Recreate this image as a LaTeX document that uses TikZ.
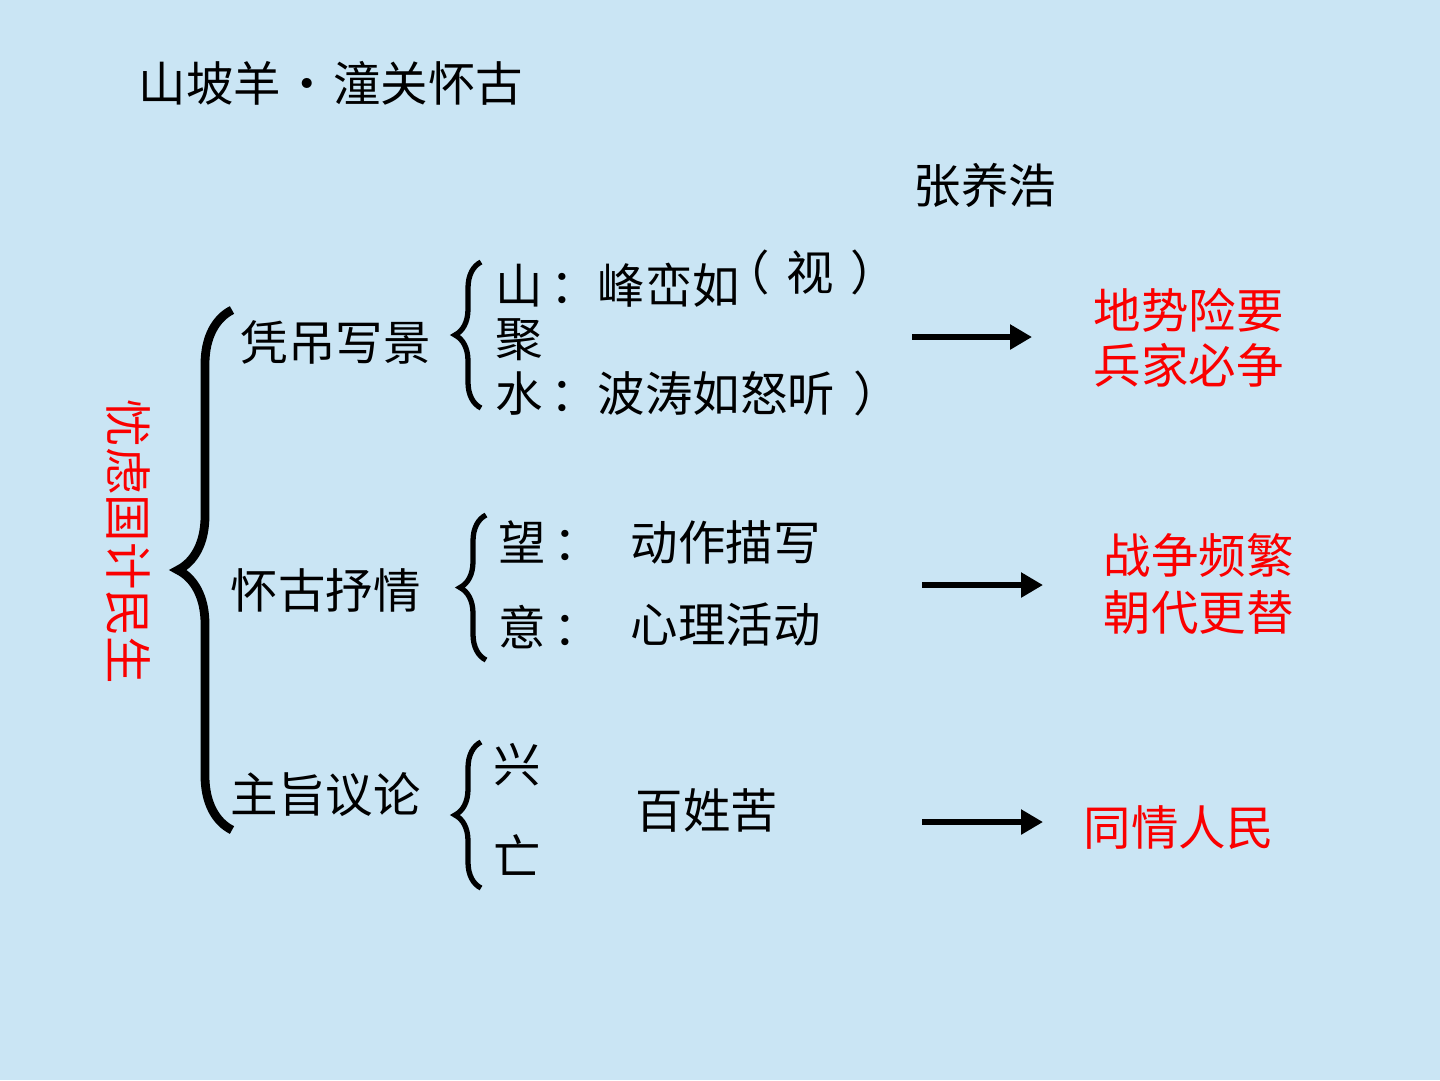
\documentclass[tikz,border=0pt]{standalone}
\usepackage{fontspec}
\setmainfont{Noto Sans CJK SC}
\usetikzlibrary{arrows.meta,decorations.pathreplacing}
\definecolor{paper}{RGB}{202,229,244}
\definecolor{hotred}{RGB}{250,0,0}

\begin{document}
\begin{tikzpicture}[x=0.1mm,y=-0.1mm,
  every node/.style={inner sep=0pt,font=\fontsize{13.5pt}{16pt}\selectfont},
  txt/.style={anchor=west},
  redtxt/.style={text=hotred},
  bigbrace/.style={decorate,decoration={brace,amplitude=5.4mm},line width=2.5pt},
  smallbrace/.style={decorate,decoration={brace,amplitude=2.6mm},line width=1.5pt},
  arr/.style={-{Triangle[length=2.2mm,width=2.4mm]},line width=1.7pt}]
\fill[paper] (0,0) rectangle (1440,1080);
\useasboundingbox (0,0) rectangle (1440,1080);
\node[txt] (title) at (138,83) {山坡羊\makebox[1.1em]{·}潼关怀古};
\node[txt] (author) at (913,185) {张养浩};
\node[redtxt,rotate=-90] (theme) at (128,542) {忧虑国计民生};
\draw[bigbrace] (232,830) -- (232,310);
\node[txt] (scene) at (240,342) {凭吊写景};
\node[txt] (past) at (230,590) {怀古抒情};
\node[txt] (point) at (230,795) {主旨议论};
% block 1
\draw[smallbrace] (481,408) -- (481,262);
\node[txt] (shan) at (495,285) {山\hspace{0.15em}：峰峦如};
\node[txt] (shi) at (722,272) {（\hspace{0.35em}视\hspace{0.35em}）};
\node[txt] (ju) at (495,340) {聚};
\node[txt] (shui) at (495,393) {水\hspace{0.15em}：波涛如怒听\hspace{0.4em}）};
% block 2
\draw[smallbrace] (486,660) -- (486,515);
\node[txt] (wang) at (498,542) {望\hspace{0.15em}：};
\node[txt] (dong) at (630,542) {动作描写};
\node[txt] (yi) at (498,627) {意\hspace{0.15em}：};
\node[txt] (xin) at (630,625) {心理活动};
% block 3
\draw[smallbrace] (481,888) -- (481,742);
\node[txt] (xing) at (493,765) {兴};
\node[txt] (wang2) at (493,855) {亡};
\node[txt] (ku) at (635,810) {百姓苦};
% results
\node[txt,redtxt] (res1a) at (1093,310) {地势险要};
\node[txt,redtxt] (res1b) at (1093,365) {兵家必争};
\node[txt,redtxt] (res2a) at (1103,555) {战争频繁};
\node[txt,redtxt] (res2b) at (1103,612) {朝代更替};
\node[txt,redtxt] (res3) at (1083,828) {同情人民};
\coordinate (a1) at (912,337);
\coordinate (b1) at (1032,337);
\coordinate (a2) at (922,585);
\coordinate (b2) at (1043,585);
\coordinate (a3) at (922,822);
\coordinate (b3) at (1043,822);
\draw[arr] (a1) -- (b1);
\draw[arr] (a2) -- (b2);
\draw[arr] (a3) -- (b3);
\end{tikzpicture}
\end{document}
